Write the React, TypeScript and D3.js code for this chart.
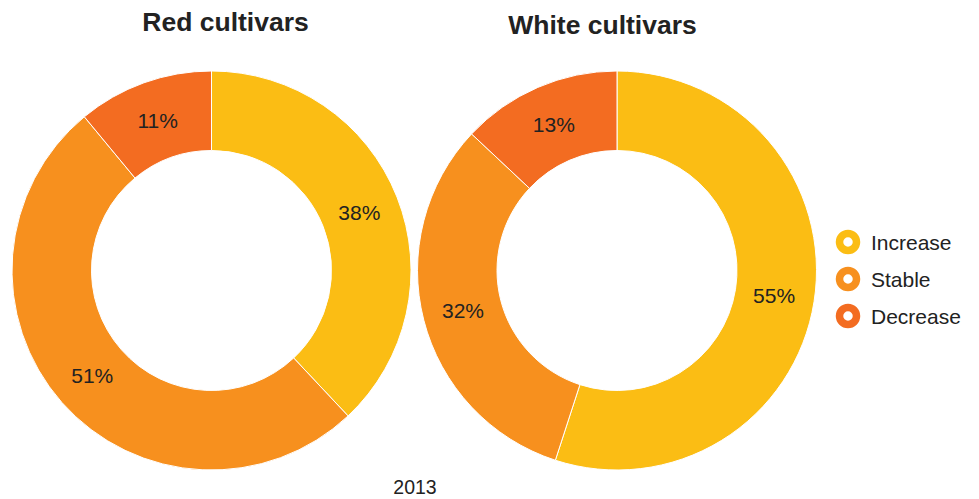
import React from "react";
import * as d3 from "d3";

const categories = ["Increase", "Stable", "Decrease"];
const colors = ["#FBBD14", "#F7901E", "#F36C21"];
const charts = ["Red cultivars", "White cultivars"];
const redValues = [38, 51, 11];
const whiteValues = [55, 32, 13];
const yearLabel = "2013";

const W = 979;
const H = 499;
const FONT = "Arial, 'Liberation Sans', Helvetica, sans-serif";

function Donut({ values, cx, cy, title, titleX, titleY }: any) {
  const outer = 199.5;
  const inner = 120;
  const pie = d3.pie<number>().sort(null).value((d) => d);
  const arcs = pie(values);
  const arc = d3.arc<any>().innerRadius(inner).outerRadius(outer);
  const labelArc = d3.arc<any>().innerRadius(159).outerRadius(159);
  const total = d3.sum(values);
  return (
    <g>
      <text x={titleX} y={titleY} textAnchor="middle" fontFamily={FONT} fontWeight="bold" fontSize={26.5} fill="#222">
        {title}
      </text>
      <g transform={`translate(${cx},${cy})`}>
        {arcs.map((a, i) => (
          <path key={i} d={arc(a) as string} fill={colors[i]} stroke="#fff" strokeWidth={1} />
        ))}
        {arcs.map((a, i) => {
          const [x, y] = labelArc.centroid(a);
          return (
            <text key={"l" + i} x={x} y={y} dy="0.36em" textAnchor="middle" fontFamily={FONT} fontSize={21} fill="#222">
              {Math.round((values[i] / total) * 100)}%
            </text>
          );
        })}
      </g>
    </g>
  );
}

export default function App() {
  return (
    <svg width={W} height={H} style={{ position: "absolute", left: 0, top: 0, background: "#fff" }}>
      <rect width={W} height={H} fill="#fff" />
      <Donut values={redValues} cx={211.5} cy={270.5} title={charts[0]} titleX={225.5} titleY={31} />
      <Donut values={whiteValues} cx={617} cy={270.5} title={charts[1]} titleX={602.5} titleY={34} />
      {categories.map((c, i) => (
        <g key={c} transform={`translate(848,${242 + i * 37})`}>
          <circle r={8.5} fill="#fff" stroke={colors[i]} strokeWidth={7.5} />
          <text x={23} y={0} dy="0.36em" fontFamily={FONT} fontSize={21} fill="#222">
            {c}
          </text>
        </g>
      ))}
      <text x={415} y={494} textAnchor="middle" fontFamily={FONT} fontSize={19.5} fill="#222">
        {yearLabel}
      </text>
    </svg>
  );
}
